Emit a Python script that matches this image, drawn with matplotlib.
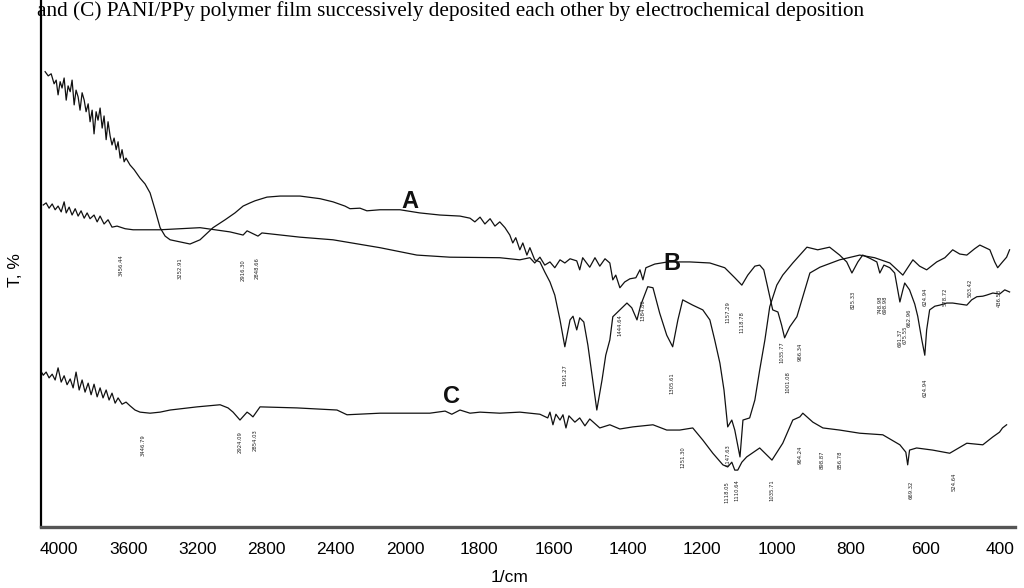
import numpy as np
import matplotlib
matplotlib.use("Agg")
from matplotlib import pyplot as plt

# Spectrum A (upper curve at 4000, strong bands below 1600)
a_wn = [4081, 4063, 4046, 4029, 4017, 4006, 3994, 3983, 3971, 3959, 3948, 3936, 3925, 3913,
        3902, 3890, 3879, 3867, 3855, 3844, 3832, 3821, 3809, 3798, 3786, 3775, 3763, 3751,
        3740, 3728, 3717, 3705, 3694, 3682, 3670, 3659, 3647, 3636, 3624, 3613, 3590, 3566,
        3532, 3503, 3474, 3445, 3416, 3387, 3358, 3300, 3243, 3185, 3110, 3040, 2983, 2936,
        2896, 2867, 2798, 2722, 2607, 2491, 2416, 2347, 2318, 2260, 2220, 2144, 2029, 1960,
        1906, 1852, 1825, 1812, 1798, 1785, 1771, 1758, 1745, 1731, 1718, 1710, 1702, 1691,
        1683, 1672, 1664, 1651, 1637, 1624, 1610, 1597, 1583, 1570, 1556, 1548, 1538, 1530,
        1519, 1508, 1495, 1484, 1470, 1460, 1449, 1441, 1422, 1403, 1390, 1376, 1366, 1347,
        1333, 1315, 1296, 1280, 1266, 1253, 1226, 1199, 1180, 1167, 1153, 1142, 1132, 1121,
        1113, 1099, 1091, 1073, 1059, 1046, 1032, 1019, 1000, 984, 957, 919, 890, 858, 831,
        812, 798, 782, 769, 750, 731, 723, 712, 696, 683, 675, 669, 661, 656, 643, 629, 621,
        610, 602, 597, 589, 575, 562, 543, 527, 508, 489, 476, 462, 446, 436, 419, 401, 387, 374]
a_t = [86.4, 85.6, 86.0, 84.1, 84.8, 82.0, 84.5, 83.3, 85.2, 81.0, 83.7, 82.6, 84.8, 80.1,
       82.9, 81.6, 79.1, 82.4, 81.0, 78.8, 80.3, 76.9, 79.1, 74.6, 78.8, 77.2, 79.5, 75.7,
       78.0, 73.5, 76.9, 74.2, 72.5, 73.8, 71.6, 73.1, 70.0, 71.6, 69.3, 70.0, 68.7, 67.8,
       66.2, 65.1, 63.4, 60.2, 56.8, 55.2, 54.5, 54.1, 53.7, 54.5, 56.8, 58.3, 59.6, 60.9,
       61.5, 61.9, 62.6, 62.8, 62.8, 62.3, 61.7, 60.9, 60.4, 60.5, 60.0, 60.2, 60.2, 59.6,
       59.2, 59.0, 58.6, 57.9, 58.8, 57.5, 58.5, 57.1, 57.9, 56.8, 55.4, 53.9, 54.9, 52.6,
       53.9, 51.6, 53.0, 50.7, 50.3, 48.4, 46.5, 44.0, 39.3, 34.2, 39.3, 40.0, 37.4, 39.7,
       38.9, 34.5, 27.9, 22.2, 27.9, 32.6, 35.5, 39.9, 41.2, 42.5, 41.6, 39.3, 42.1, 45.6,
       45.4, 40.6, 36.4, 34.2, 39.3, 43.1, 42.1, 41.2, 39.3, 35.5, 31.1, 26.0, 19.0, 20.3,
       18.4, 13.3, 20.3, 20.7, 24.1, 29.8, 35.5, 41.8, 45.9, 47.8, 50.1, 53.1, 52.6, 53.1, 51.6,
       50.3, 48.2, 50.3, 51.6, 51.0, 50.3, 48.2, 49.7, 49.2, 48.2, 45.0, 42.7, 45.0, 46.3, 45.0, 42.3, 40.0,
       35.5, 32.6, 37.4, 41.2, 41.9, 42.1, 42.5, 42.5, 42.3, 42.1, 43.1, 43.7, 43.8, 44.0, 44.4, 44.2, 45.0, 44.6]

# Spectrum B (flat curve with weak bands)
b_wn = [4092, 4075, 4058, 4040, 4023, 4006, 3988, 3971, 3959, 3942, 3925, 3907, 3890, 3873,
        3855, 3838, 3821, 3798, 3780, 3763, 3740, 3717, 3694, 3665, 3618, 3572, 3416, 3185,
        3012, 2936, 2913, 2850, 2827, 2607, 2416, 2144, 1968, 1879, 1745, 1691, 1664, 1651,
        1637, 1624, 1610, 1597, 1583, 1570, 1556, 1538, 1530, 1522, 1503, 1489, 1476, 1462,
        1449, 1441, 1433, 1422, 1409, 1395, 1379, 1368, 1360, 1352, 1328, 1293, 1234, 1180,
        1140, 1113, 1094, 1078, 1059, 1046, 1035, 1027, 1011, 997, 987, 979, 965, 946, 930,
        911, 884, 831, 777, 737, 696, 661, 634, 616, 597, 570, 548, 527, 508, 489, 468, 454,
        427, 414, 406, 393, 382, 374]
b_t = [61.1, 61.5, 60.5, 61.3, 60.2, 60.9, 59.8, 61.7, 59.6, 60.7, 59.2, 60.4, 59.0, 60.0,
       58.6, 59.6, 58.5, 59.2, 57.9, 59.0, 57.5, 58.3, 56.9, 57.1, 56.6, 56.4, 56.4, 56.8,
       56.0, 55.4, 56.2, 55.2, 55.8, 55.0, 54.5, 53.0, 51.6, 51.2, 51.1, 50.7, 51.1, 50.1,
       51.2, 49.7, 50.3, 49.2, 50.7, 50.1, 50.9, 50.5, 48.8, 51.1, 49.3, 51.1, 49.5, 50.9,
       50.1, 46.9, 47.8, 45.4, 46.5, 47.1, 47.3, 48.8, 46.9, 49.2, 49.9, 50.3, 50.3, 50.1,
       49.2, 47.3, 45.9, 47.8, 49.5, 49.7, 48.8, 46.3, 41.2, 40.8, 38.3, 35.9, 38.0, 39.9, 43.7,
       48.2, 49.3, 50.7, 51.6, 51.1, 50.1, 47.8, 50.7, 49.5, 48.8, 50.3, 51.1, 52.6, 51.8, 51.6,
       52.8, 53.5, 52.6, 50.3, 49.2, 50.3, 51.2, 52.6]

# Spectrum C (lowest curve)
c_wn = [4098, 4092, 4075, 4058, 4040, 4023, 4006, 3988, 3971, 3954, 3936, 3919, 3902, 3884,
        3867, 3850, 3832, 3815, 3798, 3780, 3763, 3746, 3728, 3711, 3694, 3676, 3659, 3636,
        3613, 3590, 3561, 3532, 3474, 3416, 3358, 3202, 3069, 3023, 2994, 2954, 2913, 2896,
        2879, 2838, 2624, 2393, 2335, 2144, 1933, 1892, 1874, 1852, 1825, 1798, 1745, 1691,
        1637, 1616, 1610, 1602, 1594, 1583, 1575, 1567, 1559, 1543, 1530, 1516, 1503, 1476,
        1449, 1422, 1387, 1333, 1296, 1261, 1226, 1199, 1172, 1145, 1132, 1121, 1113, 1105,
        1094, 1081, 1046, 1013, 984, 957, 938, 930, 903, 876, 831, 777, 715, 669, 653, 648,
        643, 624, 581, 535, 489, 446, 419, 401, 393, 382]
c_t = [29.2, 28.8, 29.4, 28.3, 29.0, 27.9, 30.2, 27.5, 28.7, 27.0, 28.1, 26.4, 29.4, 26.0,
       27.9, 25.6, 27.3, 25.1, 27.1, 24.7, 26.4, 24.5, 26.0, 24.1, 25.4, 23.5, 24.5, 23.3,
       23.7, 23.0, 22.2, 21.8, 21.6, 21.8, 22.2, 22.8, 23.2, 22.6, 21.8, 20.3, 21.8, 21.4,
       20.9, 22.8, 22.6, 22.2, 21.3, 21.6, 21.6, 22.0, 21.4, 22.2, 21.6, 21.8, 21.6, 21.8,
       21.4, 20.7, 21.8, 19.4, 21.4, 20.3, 21.3, 18.8, 21.1, 19.9, 20.7, 19.2, 20.5, 18.8,
       19.4, 18.6, 19.0, 19.4, 18.4, 18.4, 18.8, 16.5, 14.0, 11.8, 11.4, 12.3, 10.8, 10.8,
       12.3, 13.3, 15.0, 12.7, 15.9, 20.3, 20.9, 21.6, 19.9, 18.8, 18.4, 17.8, 17.5, 15.6, 14.2, 11.8,
       14.6, 15.0, 14.6, 14.0, 15.9, 15.6, 17.1, 18.0, 18.8, 19.4]

# Peak labels (text, wavenumber, T)
peaks = [("3456.44", 3642, 49.7), ("3252.91", 3300, 49.2), ("2916.30", 2936, 48.8),
         ("2848.66", 2855, 49.2), ("1591.27", 1570, 28.8), ("1444.64", 1422, 38.3),
         ("1384.86", 1360, 41.2), ("1305.61", 1282, 27.3), ("1157.29", 1132, 40.8),
         ("1118.78", 1094, 38.9), ("1035.77", 987, 33.2), ("1001.08", 971, 27.5),
         ("966.34", 938, 33.2), ("825.33", 796, 43.1), ("748.98", 723, 42.1),
         ("698.98", 710, 42.1), ("691.37", 669, 35.9), ("675.55", 656, 36.4),
         ("662.96", 643, 39.7), ("624.94", 600, 43.7), ("624.94", 600, 26.4),
         ("578.72", 548, 43.7), ("503.42", 481, 45.4), ("436.53", 401, 43.5),
         ("3446.79", 3514, 15.6), ("2924.09", 2954, 16.1), ("2854.03", 2867, 16.5),
         ("1251.30", 1253, 13.3), ("1147.63", 1132, 13.7), ("1118.05", 1134, 6.6),
         ("1110.64", 1108, 7.0), ("1035.71", 1013, 7.0), ("964.24", 938, 13.7),
         ("898.87", 879, 12.7), ("856.78", 831, 12.7), ("669.32", 640, 7.0),
         ("524.64", 522, 8.5)]

# Curve letters (text, wavenumber, T)
letters = [("A", 1987, 61.8), ("B", 1282, 50.0), ("C", 1874, 24.8)]

xticks = [4000, 3600, 3200, 2800, 2400, 2000, 1800, 1600, 1400, 1200, 1000, 800, 600, 400]

# Region above 2000 1/cm is drawn at about half scale
K = 0.465


def fwd(x):
    x = np.asarray(x, dtype=float)
    return np.where(x > 2000, 2000 + (x - 2000) * K, x)


def inv(y):
    y = np.asarray(y, dtype=float)
    return np.where(y > 2000, 2000 + (y - 2000) / K, y)


fig = plt.figure(figsize=(10.24, 5.88), dpi=100)
ax = fig.add_axes([0.040, 0.1037, 0.951, 0.8963])
ax.set_xscale('function', functions=(fwd, inv))

for wn, t in [(a_wn, a_t), (b_wn, b_t), (c_wn, c_t)]:
    ax.plot(wn, t, color='#111111', lw=0.9)

for txt, wn, t in peaks:
    ax.text(wn, t, txt, rotation=90, fontsize=3.8, ha='center', va='center', color='#222')

for txt, wn, t in letters:
    ax.text(wn, t, txt, fontsize=17, fontweight='bold', ha='center', va='center',
            family='Liberation Sans', color='#111')

ax.set_xlim(4105, 360)
ax.set_ylim(0, 100)
ax.set_xticks(xticks)
ax.set_xticklabels([str(v) for v in xticks], family='Liberation Sans', fontsize=12.5)
ax.tick_params(axis='x', length=0, pad=11)
ax.set_yticks([])

ax.spines['top'].set_visible(False)
ax.spines['right'].set_visible(False)
ax.spines['left'].set_linewidth(1.6)
ax.spines['bottom'].set_linewidth(2.4)
ax.spines['bottom'].set_color('#555555')

fig.text(15 / 1024, 1 - 270 / 588, "T, %", rotation=90, ha='center', va='center',
         family='Liberation Sans', fontsize=12.5)
fig.text(510 / 1024, 1 - 578 / 588, "1/cm", ha='center', va='center',
         family='Liberation Sans', fontsize=12.5)

# Caption of the source page, cut at the top edge
fig.text(37 / 1024, 1 - 16 / 588,
         "and (C) PANI/PPy polymer film successively deposited each other by electrochemical deposition",
         ha='left', va='baseline', family='Liberation Serif', fontsize=15.3)

fig.savefig("out.png", dpi=100)
